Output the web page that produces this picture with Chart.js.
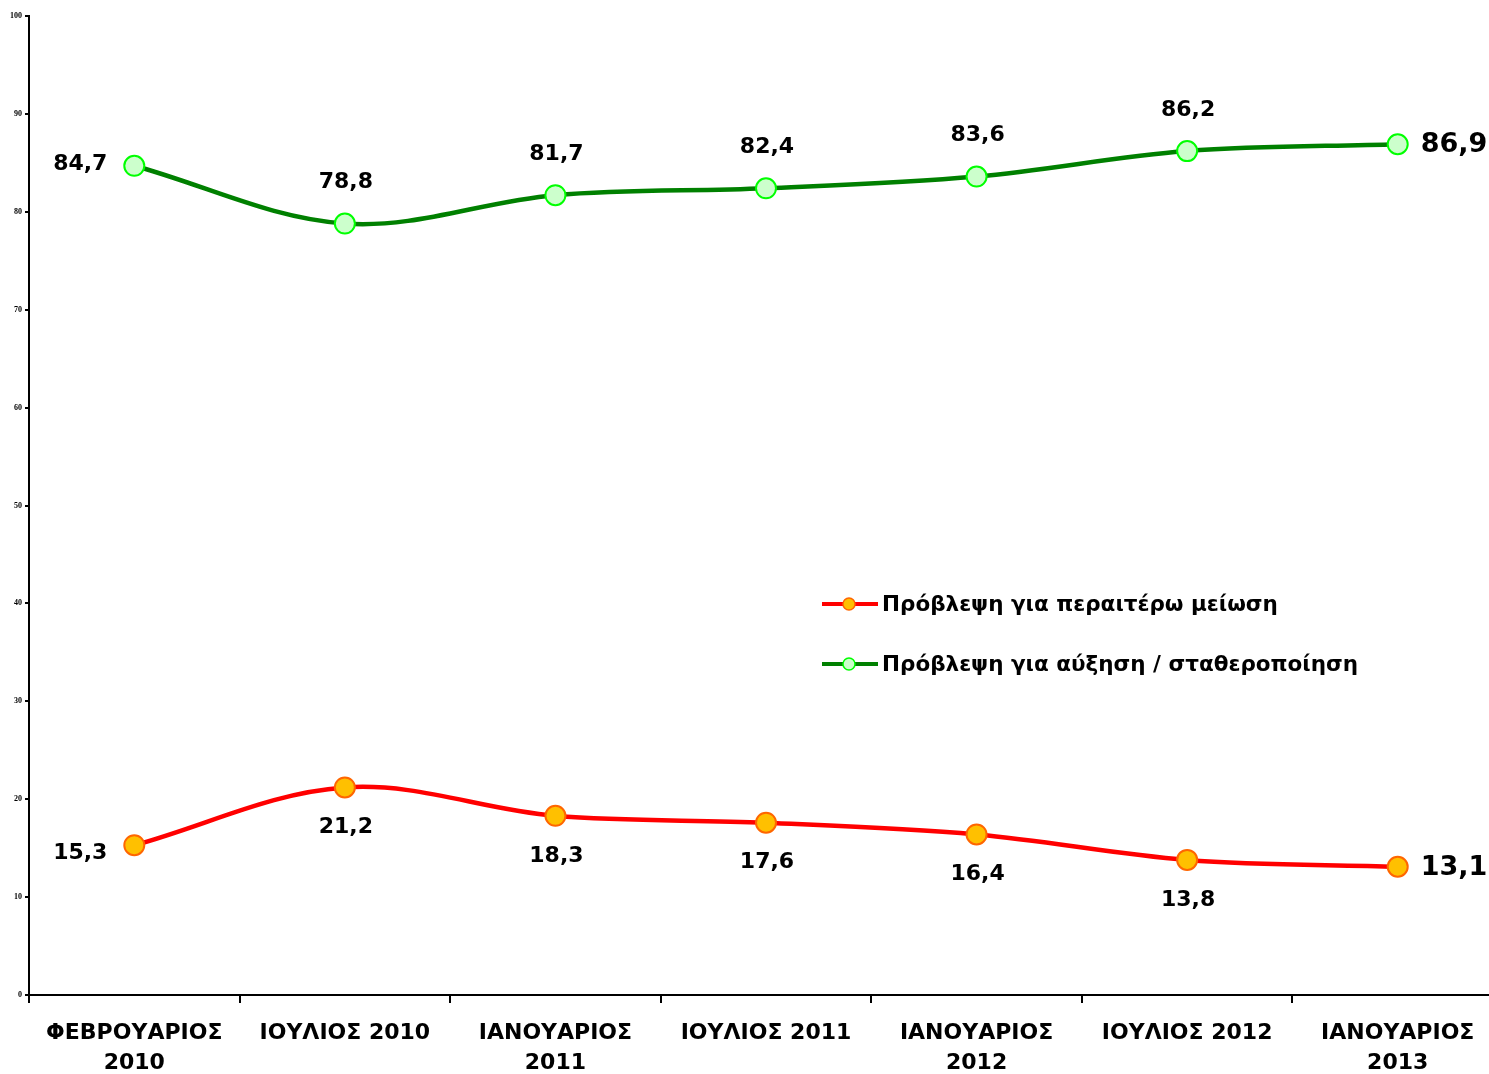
<!DOCTYPE html>
<html>
<head>
<meta charset="utf-8">
<script src="https://cdn.jsdelivr.net/npm/chart.js@4.4.1/dist/chart.umd.min.js"></script>
<style>
  html, body { margin: 0; padding: 0; background: #fff; overflow: hidden; }
  #wrap { width: 1489px; height: 1074px; }
</style>
</head>
<body>
<div id="wrap"><canvas id="c1"></canvas></div>
<script>
// periods of the survey
var periods = [
  ['ΦΕΒΡΟΥΑΡΙΟΣ', '2010'],
  'ΙΟΥΛΙΟΣ 2010',
  ['ΙΑΝΟΥΑΡΙΟΣ', '2011'],
  'ΙΟΥΛΙΟΣ 2011',
  ['ΙΑΝΟΥΑΡΙΟΣ', '2012'],
  'ΙΟΥΛΙΟΣ 2012',
  ['ΙΑΝΟΥΑΡΙΟΣ', '2013']
];
var decrease = [15.3, 21.2, 18.3, 17.6, 16.4, 13.8, 13.1];
var increase = [84.7, 78.8, 81.7, 82.4, 83.6, 86.2, 86.9];
var seriesNames = ['Πρόβλεψη για περαιτέρω μείωση', 'Πρόβλεψη για αύξηση / σταθεροποίηση'];

var FONT = "'DejaVu Sans', Verdana, sans-serif";

// the original plot runs a bit past the right edge of the picture
var widenX = {
  id: 'widenX',
  beforeDatasetsUpdate: function(chart) {
    var s = chart.scales.x;
    s.right = s.left + 1474;
    s.width = 1474;
    s.configure();
    chart.chartArea.right = s.right;
    chart.chartArea.width = s.right - chart.chartArea.left;
  }
};

// value labels next to the points
var valueLabels = {
  id: 'valueLabels',
  afterDatasetsDraw: function(chart) {
    var ctx = chart.ctx;
    ctx.save();
    ctx.fillStyle = '#000';
    ctx.textBaseline = 'middle';
    chart.data.datasets.forEach(function(ds, di) {
      var meta = chart.getDatasetMeta(di);
      var n = meta.data.length;
      meta.data.forEach(function(pt, i) {
        var txt = ds.data[i].toFixed(1).replace('.', ',');
        if (i === 0) {
          ctx.font = 'bold 22px ' + FONT;
          ctx.textAlign = 'center';
          ctx.fillText(txt, pt.x - 54, pt.y + (di === 0 ? 8 : -2));
        } else if (i === n - 1) {
          ctx.font = 'bold 27px ' + FONT;
          ctx.textAlign = 'left';
          ctx.fillText(txt, pt.x + 23, pt.y + 1);
        } else {
          ctx.font = 'bold 22px ' + FONT;
          ctx.textAlign = 'center';
          ctx.fillText(txt, pt.x + 1, pt.y + (di === 0 ? 40 : -41));
        }
      });
    });
    ctx.restore();
  }
};

// legend placed inside the plot
var innerLegend = {
  id: 'innerLegend',
  afterDraw: function(chart) {
    var ctx = chart.ctx;
    ctx.save();
    var rows = [604, 664];
    chart.data.datasets.forEach(function(ds, di) {
      var y = rows[di];
      ctx.strokeStyle = ds.borderColor;
      ctx.lineWidth = 4;
      ctx.beginPath();
      ctx.moveTo(822, y);
      ctx.lineTo(878, y);
      ctx.stroke();
      ctx.beginPath();
      ctx.arc(849, y, 6, 0, Math.PI * 2);
      ctx.fillStyle = ds.pointBackgroundColor;
      ctx.fill();
      ctx.lineWidth = 1.5;
      ctx.strokeStyle = ds.pointBorderColor;
      ctx.stroke();
      ctx.fillStyle = '#000';
      ctx.font = 'bold 21.5px ' + FONT;
      ctx.textAlign = 'left';
      ctx.textBaseline = 'middle';
      ctx.fillText(ds.label, 882, y + 1);
    });
    ctx.restore();
  }
};

var ctx = document.getElementById('c1').getContext('2d');
var chart1 = new Chart(ctx, {
  type: 'line',
  data: {
    labels: periods,
    datasets: [{
      label: seriesNames[0],
      data: decrease,
      borderColor: '#ff0000',
      borderWidth: 4.5,
      pointRadius: 10,
      pointBackgroundColor: '#ffc000',
      pointBorderColor: '#ff6600',
      pointBorderWidth: 2,
      tension: 0.35,
      fill: false
    }, {
      label: seriesNames[1],
      data: increase,
      borderColor: '#008000',
      borderWidth: 4.5,
      pointRadius: 10,
      pointBackgroundColor: '#ccffcc',
      pointBorderColor: '#00ff00',
      pointBorderWidth: 2,
      tension: 0.35,
      fill: false
    }]
  },
  options: {
    responsive: true,
    maintainAspectRatio: false,
    animation: false,
    layout: { padding: { top: 16, left: 0, right: 0, bottom: 0 } },
    plugins: {
      legend: { display: false },
      tooltip: { enabled: false }
    },
    scales: {
      x: {
        offset: true,
        border: { color: '#000', width: 2 },
        grid: { drawOnChartArea: false, color: '#000', tickLength: 8, lineWidth: 2, offset: true },
        ticks: {
          color: '#000',
          font: { family: FONT, size: 22, weight: 'bold', lineHeight: 1.38 },
          padding: 15,
          maxRotation: 0,
          autoSkip: false
        },
        afterFit: function(s) { s.height = 79; }
      },
      y: {
        min: 0,
        max: 100,
        border: { color: '#000', width: 2 },
        grid: { drawOnChartArea: false, color: '#000', tickLength: 4, lineWidth: 2 },
        ticks: {
          stepSize: 10,
          color: '#000',
          padding: 3,
          font: { family: "'Liberation Serif', serif", size: 8, weight: 'bold' }
        },
        afterFit: function(s) { s.width = 29; }
      }
    }
  },
  plugins: [widenX, valueLabels, innerLegend]
});
</script>
</body>
</html>
